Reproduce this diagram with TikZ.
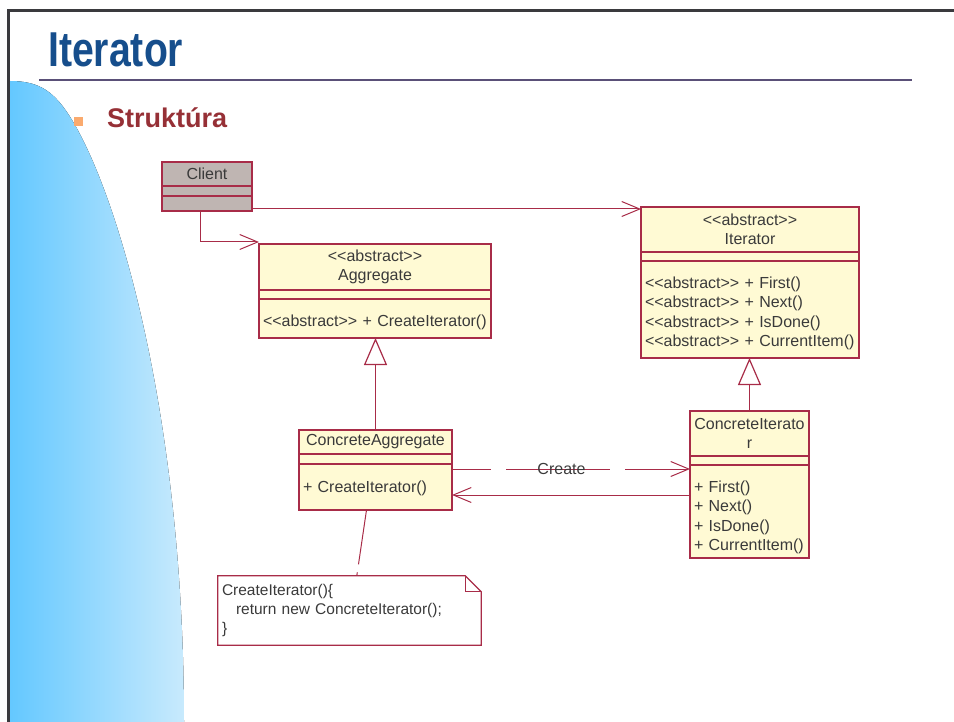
\documentclass[tikz,border=0pt]{standalone}
\usepackage{fontspec}
\setmainfont{Liberation Sans}
\usetikzlibrary{positioning, calc, arrows.meta}

\definecolor{umlline}{RGB}{168,44,72}
\definecolor{umlfill}{RGB}{255,250,212}
\definecolor{umlgray}{RGB}{191,181,178}
\definecolor{umltext}{RGB}{58,58,58}
\definecolor{headblue}{RGB}{22,78,140}
\definecolor{headrule}{RGB}{90,80,120}
\definecolor{subred}{RGB}{150,48,54}
\definecolor{bulletorange}{RGB}{250,170,110}
\definecolor{skyA}{RGB}{100,200,255}
\definecolor{skyB}{RGB}{200,234,253}
\definecolor{framegray}{RGB}{58,58,62}

\newcommand{\umlsize}{\fontsize{16}{19.5}\selectfont}
\newcommand{\notesize}{\fontsize{15.5}{19}\selectfont}
\newcommand{\stereo}[1]{<\kern0pt<#1>\kern0pt>}

\tikzstyle{clsbox} = [rectangle, draw=umlline, fill=umlfill, line width=1.2pt, inner sep=0pt, outer sep=0pt, text=umltext, font=\umlsize]
\tikzstyle{clsname} = [clsbox, align=center]
\tikzstyle{clsattr} = [clsbox]
\tikzstyle{clsops} = [clsbox, align=left, inner xsep=4pt]
\tikzstyle{assoc} = [draw=umlline, line width=1pt, -{Straight Barb[length=18pt,width=15pt]}]
\tikzstyle{inherit} = [draw=umlline, line width=1.2pt, -{Triangle[length=27pt,width=23pt,fill=white]}]
\tikzstyle{dep} = [assoc, dash pattern=on 39pt off 15pt on 104pt off 15pt on 80pt off 10pt]
\tikzstyle{noteline} = [draw=umlline, line width=1pt, dash pattern=on 55pt off 8pt]

\begin{document}
\begin{tikzpicture}[x=1pt, y=-1pt]
  \useasboundingbox (0,0) rectangle (954,722);

  % slide background
  \fill[left color=skyA, right color=skyB] (10,81) .. controls (40,81) and (55,92) .. (72,120) .. controls (119.6,198.4) and (184,420) .. (184,722) -- (10,722) -- cycle;
  \draw[framegray, line width=3pt] (8.5,722) -- (8.5,10.5) -- (954,10.5);

  \node[anchor=base west, inner sep=0pt, text=headblue, font=\fontsize{49}{55}\selectfont\bfseries] (title) at (48,67) {\scalebox{0.8}[1]{Iterator}};
  \draw[headrule, line width=2.2pt] (39,80) -- (912,80);

  \node[fill=bulletorange, minimum size=9pt, inner sep=0pt] (bullet) at (78.5,122) {};
  \node[anchor=base west, inner sep=0pt, text=subred, font=\fontsize{27}{30}\selectfont\bfseries] (subtitle) at (107,128) {Struktúra};

  % Client
  \node[clsname, fill=umlgray, minimum width=90pt, minimum height=24pt] (clientname) at (207,174) {Client};
  \node[clsattr, fill=umlgray, minimum width=90pt, minimum height=10pt, below=0pt of clientname] (clientattr) {};
  \node[clsattr, fill=umlgray, minimum width=90pt, minimum height=15pt, below=0pt of clientattr] (clientops) {};

  % Aggregate
  \node[clsname, minimum width=232pt, minimum height=46pt] (aggname) at (375,267) {\stereo{abstract}\\Aggregate};
  \node[clsattr, minimum width=232pt, minimum height=9pt, below=0pt of aggname] (aggattr) {};
  \node[clsops, text width=224pt, text height=19pt, minimum height=39pt, below=0pt of aggattr] (aggops) {\stereo{abstract} + CreateIterator()};

  % Iterator
  \node[clsname, minimum width=218pt, minimum height=45pt] (itername) at (750,229.5) {\stereo{abstract}\\Iterator};
  \node[clsattr, minimum width=218pt, minimum height=9pt, below=0pt of itername] (iterattr) {};
  \node[clsops, text width=210pt, text height=19pt, minimum height=97pt, below=0pt of iterattr] (iterops) {\stereo{abstract} + First()\\\stereo{abstract} + Next()\\\stereo{abstract} + IsDone()\\\stereo{abstract} + CurrentItem()};

  % ConcreteAggregate
  \node[clsname, minimum width=153pt, minimum height=24pt] (caggname) at (375.5,442) {ConcreteAggregate};
  \node[clsattr, minimum width=153pt, minimum height=10pt, below=0pt of caggname] (caggattr) {};
  \node[clsops, text width=145pt, text height=15pt, minimum height=46pt, below=0pt of caggattr] (caggops) {+ CreateIterator()};

  % ConcreteIterator
  \node[clsname, minimum width=119pt, minimum height=45pt] (citername) at (749.5,433.5) {ConcreteIterato\\r};
  \node[clsattr, minimum width=119pt, minimum height=9pt, below=0pt of citername] (citerattr) {};
  \node[clsops, text width=111pt, text height=23pt, minimum height=93pt, below=0pt of citerattr] (citerops) {+ First()\\+ Next()\\+ IsDone()\\+ CurrentItem()};

  % note
  \node[rectangle, inner sep=0pt, inner xsep=4pt, text width=255pt, minimum height=69pt, align=left, text=umltext, font=\notesize] (note) at (349.5,610.5) {CreateIterator()\{\\\hspace*{14pt}return new ConcreteIterator();\\\}};
  \draw[umlline, line width=1.2pt] (note.south west) -- (note.north west) -- ($(note.north east)+(-16,0)$) -- ($(note.north east)+(0,16)$) -- (note.south east) -- cycle;
  \draw[umlline, line width=1.2pt] ($(note.north east)+(-16,0)$) -- ($(note.north east)+(-16,16)$) -- ($(note.north east)+(0,16)$);

  % connectors
  \draw[assoc] ($(clientops.south east)+(0,-2)$) -- ($(itername.north west)+(0,2)$);
  \draw[assoc] ($(clientops.south)+(-7,0)$) |- ($(aggname.north west)+(0,-2)$);
  \draw[inherit] (caggname.north) -- (caggname.north |- aggops.south);
  \draw[inherit] (citername.north) -- (citername.north |- iterops.south);
  \draw[dep] ($(caggops.north east)+(0,5)$) -- node[pos=0.46, text=umltext, font=\umlsize] (createlbl) {Create} ($(citerops.north west)+(0,4)$);
  \draw[assoc] ($(citerops.north west)+(0,30)$) -- ($(caggops.north east)+(0,31)$);
  \draw[noteline] ($(caggops.south)+(-9,0)$) -- ($(note.north west)+(139,0)$);
\end{tikzpicture}
\end{document}
